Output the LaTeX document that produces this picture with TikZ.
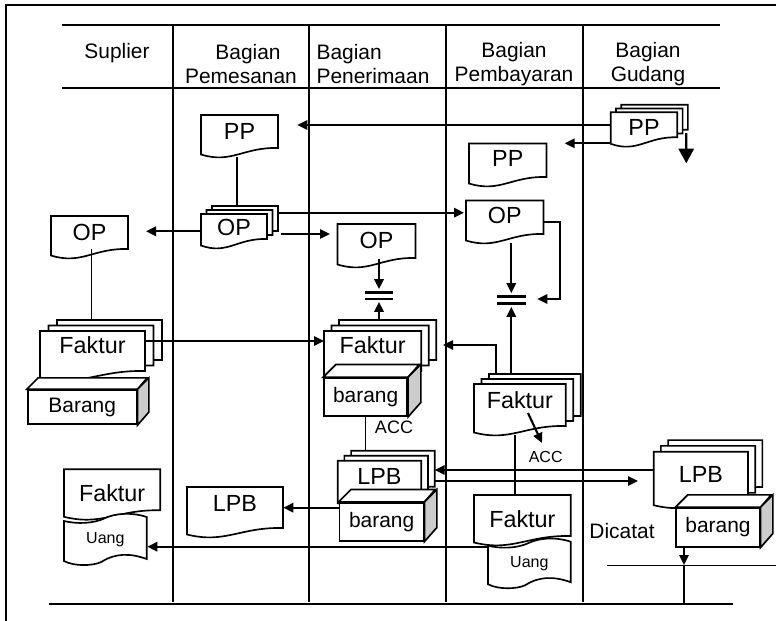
\documentclass[tikz,border=0pt]{standalone}
\usepackage{fontspec}
\setmainfont{Liberation Sans}
\usetikzlibrary{arrows.meta}
\newcommand{\lanefont}{\fontsize{15.7}{18}\selectfont}
\newcommand{\docfont}{\fontsize{17.5}{20}\selectfont}
\newcommand{\smallfont}{\fontsize{12}{14}\selectfont}
\tikzset{
    sheet/.style={draw, fill=white, line width=1.25pt},
    rule/.style={line width=1.25pt},
    flow/.style={line width=1.6pt, -{Triangle[length=7.5pt, width=7pt]}},
    flowplain/.style={line width=1.6pt},
    wire/.style={line width=1.15pt},
    pagebox/.style={inner sep=0pt, font=\docfont},
    crate/.style={draw, fill=white, line width=1.25pt, inner sep=0pt, font=\lanefont},
    lanehead/.style={inner sep=0pt, font=\lanefont},
}
% page with wavy foot: x, y, w, h
\newcommand{\docsheet}[4]{%
    \draw[sheet] (#1,#2) -- ({#1+#3},#2) -- ({#1+#3},{#2+#4-9})
        .. controls ({#1+.55*#3},{#2+#4-10}) and ({#1+.4*#3},{#2+#4+7}) .. (#1,{#2+#4-2.5}) -- cycle;
}
% [text offset] name, x, y, w, h, text
\newcommand{\docpage}[7][15]{%
    \docsheet{#3}{#4}{#5}{#6}
    \pgfmathsetlengthmacro\docraise{(#6/2-#1)*0.75pt-0.36*17.5pt}
    \node[pagebox, minimum width=#5*0.75pt, minimum height=#6*0.75pt] (#2) at ({#3+#5/2},{#4+#6/2})
        {\smash{\raisebox{\docraise}{#7}}};
}
% [text offset] name, x, y, w, h, dx, dy, text
\newcommand{\docstack}[9][15]{%
    \foreach \k in {2,1} {\docsheet{#3+\k*#7}{#4-\k*#8}{#5}{#6}}
    \coordinate (#2back) at ({#3+2*#7+#5},{#4-2*#8});
    \docpage[#1]{#2}{#3}{#4}{#5}{#6}{#9}
}
% name, x, y, w, h, depth, text
\newcommand{\goodsbox}[7]{%
    \node[crate, minimum width=#4*0.75pt, minimum height=#5*0.75pt] (#1) at ({#2+#4/2},{#3+#5/2}) {#7};
    \draw[sheet] (#1.north west) -- ++(#6,-#6) -- ++(#4,0) -- (#1.north east) -- cycle;
    \draw[sheet, fill=black!20] (#1.north east) -- ++(#6,-#6) -- ++(0,#5) -- (#1.south east) -- cycle;
}
% name, x, y, w, h, text
\newcommand{\moneytape}[6]{%
    \draw[sheet] (#2,{#3+8}) .. controls ({#2+.15*#4},{#3+11}) and ({#2+.35*#4},{#3+11}) .. ({#2+.5*#4},{#3+5})
        .. controls ({#2+.6*#4},{#3+1}) and ({#2+.8*#4},{#3-1.5}) .. ({#2+#4},{#3+4})
        -- ({#2+#4},{#3+#5-6}) .. controls ({#2+.8*#4},{#3+#5-12}) and ({#2+.62*#4},{#3+#5-12}) .. ({#2+.45*#4},{#3+#5-3})
        .. controls ({#2+.35*#4},{#3+#5+1}) and ({#2+.12*#4},{#3+#5+1.5}) .. (#2,{#3+#5-4}) -- cycle;
    \node[inner sep=0pt, font=\smallfont, minimum width=#4*0.75pt, minimum height=14pt] (#1) at ({#2+#4/2},{#3+#5/2+1}) {#6};
}
\begin{document}
\begin{tikzpicture}[x=0.75pt, y=-0.75pt]
    \useasboundingbox (0,0) rectangle (776,621);
    % open frame
    \draw[line width=1.5pt] (6,621) -- (6,4.5) -- (776,4.5);
    % lanes
    \draw[rule] (62,25) -- (720,25);
    \draw[rule] (62,88) -- (720,88);
    \draw[rule] (49,604) -- (733,604);
    \foreach \xx in {173,309,446,583} {
        \draw[rule] (\xx,25) -- (\xx,602);
    }
    \node[lanehead, anchor=base] (headSup) at (117,58) {Suplier};
    \node[lanehead, align=center] (headPem) at (241,64.5) {\hspace*{10.5pt}Bagian\\Pemesanan};
    \node[lanehead, align=left] (headTer) at (373,64.5) {Bagian\\Penerimaan};
    \node[lanehead, align=center] (headBay) at (514,64.5) {Bagian\\Pembayaran};
    \node[lanehead, align=center] (headGud) at (648,64.5) {Bagian\\Gudang};

    % documents
    \docpage[16.5]{ppB}{201}{115}{77}{42}{PP}
    \docstack[13]{opB}{201}{214}{66}{34}{5.5}{4}{OP}
    \docpage[16]{opA}{51}{216}{77}{42}{OP}
    \docpage[16]{opC}{337.5}{224}{78}{43}{OP}
    \docpage[14.5]{ppD}{469}{143.5}{77.5}{42.5}{PP}
    \docpage[14.5]{opD}{466}{200.5}{77.5}{42.5}{OP}
    \docstack[14.5]{ppE}{610.7}{112.3}{66.6}{34}{5.3}{3.8}{PP}
    \docstack[14]{fakA}{40}{331}{105}{49}{8.5}{5.5}{Faktur}
    \docstack[14]{fakB}{324}{331}{97.3}{49}{7.5}{5.5}{Faktur}
    \docstack[16]{fakC}{474}{384}{91.7}{51}{7.5}{5}{Faktur}
    \docstack[15]{lpbB}{337.7}{460.7}{83.6}{45}{6.7}{5}{LPB}
    \docstack[22]{lpbD}{653.7}{451.7}{94.3}{56}{7.2}{5.8}{LPB}
    \docpage[16]{lpbA}{187}{487}{96}{50}{LPB}
    \docpage[24]{fakE}{64}{469.3}{96.3}{50}{Faktur}
    \docpage[24]{fakD}{474}{495}{96.7}{50}{Faktur}
    \moneytape{uangA}{64}{513}{82.7}{52}{Uang}
    \moneytape{uangB}{488}{537.7}{82.7}{50.5}{Uang}

    % goods
    \goodsbox{crateA}{27.7}{390}{109}{34.3}{11.3}{Barang}
    \goodsbox{crateB}{324}{378}{83.3}{38}{12.7}{barang}
    \goodsbox{crateC}{339.5}{502.7}{84.2}{38}{12.3}{barang}
    \goodsbox{crateD}{676.3}{508}{83.4}{38.7}{12.3}{barang}

    % merge bars
    \node[inner sep=0pt, minimum width=21pt, minimum height=4.2pt] (mergeA) at (379,295.5) {};
    \node[inner sep=0pt, minimum width=21pt, minimum height=4.9pt] (mergeB) at (511.3,300) {};
    \foreach \m in {mergeA,mergeB} {
        \draw[flowplain] (\m.north west) -- (\m.north east);
        \draw[flowplain] (\m.south west) -- (\m.south east);
    }

    % free ends
    \coordinate (tipPpB) at (297.3,125);
    \coordinate (tipPpD) at (564.7,143.3);
    \coordinate (tipOpA) at (146,231.3);
    \coordinate (tipOpC) at (330,234);
    \coordinate (tipOpD) at (464,212.7);
    \coordinate (tipFakB) at (324,341);
    \coordinate (tipFakBr) at (443,345);
    \coordinate (outFakC) at (496.3,374);
    \coordinate (loopOpD) at (559.7,299);
    \coordinate (tipLoop) at (537.3,299);
    \coordinate (inOpA) at (91.7,249);
    \coordinate (tipDown) at (686.3,163.3);
    \coordinate (tipAcc) at (542,443);
    \coordinate (topAcc) at (528,413);
    \coordinate (footFakC) at (515,435);
    \coordinate (tipLpbB) at (434.7,470);
    \coordinate (tipLpbD) at (638,481);
    \coordinate (tipLpbA) at (283.3,507.7);
    \coordinate (tipUang) at (147.3,546.7);
    \coordinate (tipStock) at (684,565);

    % top rows
    \draw[flow] (ppE.west |- tipPpB) -- (tipPpB);
    \draw[flow] (ppE.west |- tipPpD) -- (tipPpD);
    \draw[flowplain, -{Triangle[length=11pt, width=11.5pt]}] (ppEback |- 0,133) ++(-1.7,0) -- (tipDown);
    \draw[flowplain] ([xshift=-2.2pt]ppB.south) -- ([xshift=-2.2pt]ppB.south |- opBback);
    \draw[flow] (opB.west |- tipOpA) -- (tipOpA);
    \draw[flow] ([xshift=10.3pt]opB.east |- tipOpC) -- (tipOpC);
    \draw[flow] (opBback |- tipOpD) -- (tipOpD);
    \draw[wire] (inOpA) -- (inOpA |- fakAback);
    % into the bars
    \draw[flow, shorten >=2.5pt] ([yshift=6.5pt]opC.south -| mergeA.north) -- (mergeA.north);
    \draw[flow, shorten >=2.5pt] (mergeA.south |- fakBback) -- (mergeA.south);
    \draw[flow, shorten >=2.5pt] (opD.south -| mergeB.north) -- (mergeB.north);
    \draw[flow, shorten >=2.5pt] (mergeB.south |- fakCback) -- (mergeB.south);
    \draw[flow] (opD.east) -| (loopOpD) -- (tipLoop);
    % middle rows
    \draw[flow] (fakA.east |- tipFakB) -- (tipFakB);
    \draw[flow] (outFakC) |- (tipFakBr);
    \draw[flow] (topAcc) -- (tipAcc);
    \draw[wire] (crateB.south) -- (crateB.south |- lpbBback);
    \draw[wire] (footFakC) -- (footFakC |- fakD.north);
    \node[inner sep=0pt, font=\fontsize{13.5}{15}\selectfont] (accB) at (394,427) {ACC};
    \node[inner sep=0pt, font=\smallfont] (accC) at (545.7,457.3) {ACC};
    % lower rows
    \draw[flow] (lpbD.west |- tipLpbB) -- (tipLpbB);
    \draw[flow] (lpbBback |- tipLpbD) -- (tipLpbD);
    \draw[flow] (crateC.west |- tipLpbA) -- (tipLpbA);
    \draw[flow] (uangB.west |- tipUang) -- (tipUang);
    \draw[flow] (tipStock |- crateD.south) -- (tipStock);
    \draw[wire] (tipStock) -- (tipStock |- 0,604);
    \draw[wire] (607,565.7) -- (776,565.7);
    \node[lanehead] (noted) at (622,530.7) {Dicatat};
\end{tikzpicture}
\end{document}
